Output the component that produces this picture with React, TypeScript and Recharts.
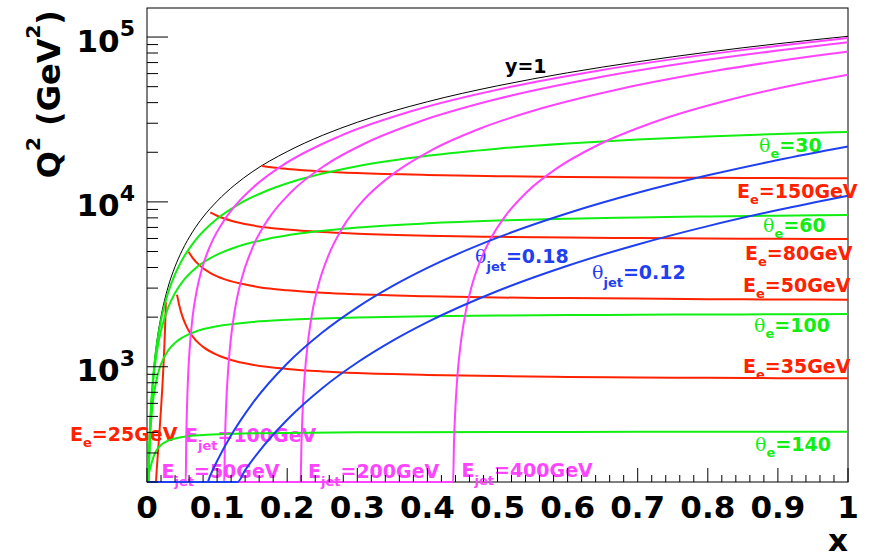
import { LineChart, Line, XAxis, YAxis, Customized } from "recharts";

document.body.style.margin = "0";

// Kinematic curves in the (x, Q^2) plane, points are [x, Q2 in GeV^2]
const yEqualsOne: [number, number][] = [
  [0.002, 202], [0.003, 304], [0.004, 405], [0.006, 607], [0.008, 810], [0.01, 1010],
  [0.015, 1520], [0.02, 2020], [0.03, 3040], [0.04, 4050], [0.05, 5060], [0.065, 6580],
  [0.08, 8100], [0.1, 10100], [0.125, 12650], [0.15, 15200], [0.2, 20200], [0.25, 25300],
  [0.3, 30400], [0.4, 40500], [0.5, 50600], [0.6, 60700], [0.7, 70800], [0.8, 81000],
  [0.9, 91100], [1, 101000],
];

// constant scattered electron energy
const ee150: [number, number][] = [
  [0.164, 16500], [0.18, 16160], [0.2, 15850], [0.25, 15310], [0.3, 14970], [0.4, 14570],
  [0.5, 14330], [0.6, 14180], [0.7, 14080], [0.8, 14000], [0.9, 13940], [1, 13890],
];
const ee80: [number, number][] = [
  [0.0903, 8630], [0.1, 8240], [0.12, 7690], [0.15, 7210], [0.2, 6790], [0.25, 6560],
  [0.3, 6420], [0.4, 6240], [0.5, 6140], [0.6, 6080], [0.7, 6030], [0.8, 6000],
  [0.9, 5970], [1, 5950],
];
const ee50: [number, number][] = [
  [0.0593, 4990], [0.065, 4580], [0.075, 4120], [0.09, 3710], [0.11, 3400], [0.13, 3220],
  [0.16, 3040], [0.2, 2910], [0.25, 2810], [0.3, 2750], [0.4, 2680], [0.5, 2630],
  [0.6, 2610], [0.7, 2590], [0.8, 2570], [0.9, 2560], [1, 2550],
];
const ee35: [number, number][] = [
  [0.0428, 2740], [0.046, 2360], [0.05, 2050], [0.055, 1810], [0.06, 1640], [0.07, 1440],
  [0.08, 1320], [0.1, 1180], [0.12, 1100], [0.15, 1030], [0.2, 970], [0.25, 937],
  [0.3, 916], [0.4, 892], [0.5, 878], [0.6, 868], [0.7, 862], [0.8, 857], [0.9, 853],
  [1, 851],
];
const ee25: [number, number][] = [
  [0, 200], [0.0126, 200], [0.014, 242], [0.016, 317], [0.018, 416], [0.02, 556],
  [0.022, 766], [0.024, 1120], [0.025, 1405], [0.026, 1836], [0.0265, 2147], [0.0269, 2470],
];

// constant electron polar angle (degrees)
const th30: [number, number][] = [
  [0.002, 201], [0.004, 400], [0.007, 695], [0.01, 984], [0.015, 1457], [0.02, 1916],
  [0.03, 2800], [0.04, 3640], [0.05, 4440], [0.07, 5920], [0.1, 7900], [0.13, 9640],
  [0.17, 11640], [0.22, 13760], [0.3, 16470], [0.4, 19050], [0.5, 21040], [0.6, 22600],
  [0.7, 23870], [0.8, 24920], [0.9, 25800], [1, 26550],
];
const th60: [number, number][] = [
  [0.00205, 203], [0.003, 294], [0.005, 479], [0.007, 657], [0.01, 911], [0.015, 1300],
  [0.02, 1655], [0.03, 2275], [0.04, 2800], [0.05, 3250], [0.07, 3980], [0.1, 4785],
  [0.13, 5370], [0.17, 5940], [0.22, 6450], [0.3, 6990], [0.4, 7410], [0.5, 7700],
  [0.6, 7900], [0.7, 8040], [0.8, 8160], [0.9, 8250], [1, 8330],
];
const th100: [number, number][] = [
  [0.0022, 201], [0.003, 266], [0.004, 340], [0.006, 472], [0.008, 587], [0.01, 686],
  [0.015, 886], [0.02, 1038], [0.03, 1252], [0.04, 1396], [0.05, 1499], [0.07, 1638],
  [0.1, 1760], [0.15, 1868], [0.2, 1927], [0.3, 1990], [0.4, 2024], [0.5, 2044],
  [0.6, 2058], [0.7, 2068], [0.8, 2075], [0.9, 2081], [1, 2086],
];
const th140: [number, number][] = [
  [0.003, 228], [0.006, 255], [0.01, 290], [0.015, 318], [0.02, 335], [0.03, 356],
  [0.04, 367], [0.055, 378], [0.08, 386], [0.12, 392], [0.2, 397], [0.3, 400],
  [0.5, 402], [0.7, 403], [1, 404],
];

// constant jet energy
const ej50: [number, number][] = [
  [0, 200], [0.0553, 201], [0.0559, 340], [0.0571, 578], [0.0587, 891], [0.0605, 1224],
  [0.0648, 1970], [0.0707, 2860], [0.0788, 3990], [0.091, 5530], [0.1114, 7890],
  [0.1277, 9690], [0.1522, 12320], [0.1929, 16600], [0.2745, 25000], [0.3793, 35700],
  [0.519, 49900], [0.6413, 62300], [0.8451, 83000], [0.92, 90540], [1, 98650],
];
const ej100: [number, number][] = [
  [0, 200], [0.1101, 201], [0.1111, 337], [0.1128, 571], [0.1156, 936], [0.1194, 1450],
  [0.126, 2295], [0.135, 3415], [0.1511, 5350], [0.1732, 7890], [0.205, 11410],
  [0.2551, 16780], [0.3113, 22690], [0.3881, 30640], [0.4935, 41450], [0.6361, 56000],
  [0.8179, 74500], [0.9, 82830], [1, 92980],
];
const ej200: [number, number][] = [
  [0, 200], [0.2191, 200], [0.2203, 334], [0.2222, 562], [0.2252, 912], [0.2294, 1393],
  [0.2359, 2149], [0.2454, 3229], [0.2586, 4710], [0.2799, 7080], [0.3097, 10340],
  [0.3532, 15000], [0.4049, 20490], [0.4763, 27960], [0.5656, 37200], [0.6764, 48600],
  [0.8111, 62390], [0.9674, 78320], [1, 81640],
];
const ej400: [number, number][] = [
  [0, 200], [0.4366, 200], [0.438, 355], [0.4401, 579], [0.443, 897], [0.4473, 1358],
  [0.4539, 2067], [0.4629, 3045], [0.4748, 4325], [0.49, 5950], [0.5119, 8290],
  [0.5424, 11530], [0.5845, 15970], [0.6434, 22140], [0.728, 30940], [0.8397, 42490],
  [0.9501, 53850], [1, 58960],
];

// constant jet angle (rad)
const tj18: [number, number][] = [
  [0, 200], [0.0862, 200], [0.09, 218], [0.1, 268], [0.12, 384], [0.15, 596], [0.2, 1046],
  [0.25, 1613], [0.3, 2294], [0.35, 3083], [0.4, 3978], [0.5, 6066], [0.6, 8531],
  [0.7, 11350], [0.8, 14490], [0.9, 17940], [1, 21670],
];
const tj12: [number, number][] = [
  [0, 200], [0.129, 200], [0.14, 236], [0.16, 307], [0.2, 477], [0.25, 741], [0.3, 1061],
  [0.35, 1436], [0.4, 1865], [0.5, 2881], [0.6, 4101], [0.7, 5520], [0.8, 7131],
  [0.9, 8926], [1, 10900],
];

const Q2_MIN = 200;
const Q2_MAX = 150000;

const RED = "#ff2200";
const GREEN = "#11ee11";
const MAGENTA = "#ff44ff";
const BLUE = "#1f40f0";

const W = 870;
const H = 560;
const PLOT_LEFT = 147;
const PLOT_TOP = 8;
const PLOT_RIGHT = 848;
const PLOT_BOTTOM = 482;

const FONT = "'DejaVu Sans', sans-serif";
const GREEK = "'DejaVu Serif', serif";

const toPts = (pairs: [number, number][]) => pairs.map(([x, q]) => ({ x, q }));

const series = [
  { name: "y=1", pts: yEqualsOne, color: "#000", width: 1 },
  { name: "Ee=25", pts: ee25, color: RED, width: 2 },
  { name: "Ee=35", pts: ee35, color: RED, width: 2 },
  { name: "Ee=50", pts: ee50, color: RED, width: 2 },
  { name: "Ee=80", pts: ee80, color: RED, width: 2 },
  { name: "Ee=150", pts: ee150, color: RED, width: 2 },
  { name: "th=30", pts: th30, color: GREEN, width: 2 },
  { name: "th=60", pts: th60, color: GREEN, width: 2 },
  { name: "th=100", pts: th100, color: GREEN, width: 2 },
  { name: "th=140", pts: th140, color: GREEN, width: 2 },
  { name: "Ejet=50", pts: ej50, color: MAGENTA, width: 2 },
  { name: "Ejet=100", pts: ej100, color: MAGENTA, width: 2 },
  { name: "Ejet=200", pts: ej200, color: MAGENTA, width: 2 },
  { name: "Ejet=400", pts: ej400, color: MAGENTA, width: 2 },
  { name: "thjet=0.18", pts: tj18, color: BLUE, width: 2 },
  { name: "thjet=0.12", pts: tj12, color: BLUE, width: 2 },
];

// ROOT-style axis divisions: 10 primary, 5 secondary on x; log decades on y
const xTicks = Array.from({ length: 51 }, (_, i) => +(i * 0.02).toFixed(2));
const yTicks: number[] = [];
[100, 1000, 10000].forEach((d) => {
  for (let m = 1; m <= 9; m++) {
    const v = d * m;
    if (v >= Q2_MIN && v <= Q2_MAX) yTicks.push(v);
  }
});
yTicks.push(100000);

const XTick = (props: any) => {
  const { x, payload } = props;
  const v = payload.value as number;
  const major = Math.abs(v * 10 - Math.round(v * 10)) < 1e-6;
  const label = v === 0 ? "0" : v === 1 ? "1" : v.toFixed(1);
  return (
    <g>
      <line x1={x} x2={x} y1={PLOT_BOTTOM} y2={PLOT_BOTTOM - (major ? 14 : 7)} stroke="#000" />
      {major && (
        <text x={x} y={518} textAnchor="middle" fontFamily={FONT} fontWeight="bold" fontSize={31} fill="#000">
          {label}
        </text>
      )}
    </g>
  );
};

const YTick = (props: any) => {
  const { y, payload } = props;
  const v = payload.value as number;
  const exp = Math.round(Math.log10(v));
  const major = Math.abs(Math.pow(10, exp) - v) < 1e-6;
  return (
    <g>
      <line x1={PLOT_LEFT} x2={PLOT_LEFT + (major ? 21 : 11)} y1={y} y2={y} stroke="#000" />
      {major && (
        <text x={135} y={y + 14.5} textAnchor="end" fontFamily={FONT} fontWeight="bold" fontSize={31} fill="#000">
          10
          <tspan dy={-15.5} fontSize={22}>{exp}</tspan>
        </text>
      )}
    </g>
  );
};

type LabelSpec = {
  x: number;
  y: number;
  color: string;
  greek?: boolean;
  head?: string;
  sub?: string;
  tail: string;
};

const labels: LabelSpec[] = [
  { x: 505, y: 72.5, color: "#000", tail: "y=1" },
  { x: 759, y: 151.5, color: GREEN, greek: true, sub: "e", tail: "=30" },
  { x: 737, y: 198, color: RED, head: "E", sub: "e", tail: "=150GeV" },
  { x: 763, y: 231.5, color: GREEN, greek: true, sub: "e", tail: "=60" },
  { x: 745, y: 260, color: RED, head: "E", sub: "e", tail: "=80GeV" },
  { x: 475, y: 263, color: BLUE, greek: true, sub: "jet", tail: "=0.18" },
  { x: 592, y: 279, color: BLUE, greek: true, sub: "jet", tail: "=0.12" },
  { x: 743, y: 291.5, color: RED, head: "E", sub: "e", tail: "=50GeV" },
  { x: 754, y: 331.5, color: GREEN, greek: true, sub: "e", tail: "=100" },
  { x: 743, y: 372.5, color: RED, head: "E", sub: "e", tail: "=35GeV" },
  { x: 755, y: 451, color: GREEN, greek: true, sub: "e", tail: "=140" },
  { x: 70, y: 441, color: RED, head: "E", sub: "e", tail: "=25GeV" },
  { x: 185, y: 441.5, color: MAGENTA, head: "E", sub: "jet", tail: "=100GeV" },
  { x: 161.5, y: 478, color: MAGENTA, head: "E", sub: "jet", tail: "=50GeV" },
  { x: 308, y: 478, color: MAGENTA, head: "E", sub: "jet", tail: "=200GeV" },
  { x: 461.5, y: 477, color: MAGENTA, head: "E", sub: "jet", tail: "=400GeV" },
];

const CurveLabel = ({ x, y, color, greek, head, sub, tail }: LabelSpec) => {
  const drop = sub === "jet" ? 8 : 6;
  return (
    <text x={x} y={y} fill={color} fontFamily={FONT} fontWeight="bold" fontSize={19}>
      {greek ? (
        <tspan fontFamily={GREEK} fontWeight="normal">θ</tspan>
      ) : (
        head
      )}
      {sub && (
        <tspan dy={drop} fontSize={13}>{sub}</tspan>
      )}
      <tspan dy={sub ? -drop : 0}>{tail}</tspan>
    </text>
  );
};

const Overlay = () => (
  <g>
    {labels.map((l, i) => (
      <CurveLabel key={i} {...l} />
    ))}
    <text x={PLOT_RIGHT} y={551} textAnchor="end" fontFamily={FONT} fontWeight="bold" fontSize={31} fill="#000">
      x
    </text>
    <text
      transform={`translate(60, ${PLOT_TOP + 2}) rotate(-90)`}
      textAnchor="end"
      fontFamily={FONT}
      fontWeight="bold"
      fontSize={32}
      fill="#000"
    >
      Q<tspan dy={-20} fontSize={20}>2</tspan>
      <tspan dy={20}> (GeV</tspan>
      <tspan dy={-20} fontSize={20}>2</tspan>
      <tspan dy={20}>)</tspan>
    </text>
  </g>
);

export default function App() {
  return (
    <div style={{ position: "relative", width: W, height: H, background: "#fff" }}>
      {/* frame box lies beneath the chart svg so curves clipped to the lower edge stay visible */}
      <svg width={W} height={H} style={{ position: "absolute", left: 0, top: 0 }}>
        <rect
          x={PLOT_LEFT}
          y={PLOT_TOP}
          width={PLOT_RIGHT - PLOT_LEFT}
          height={PLOT_BOTTOM - PLOT_TOP}
          fill="none"
          stroke="#000"
        />
      </svg>
      <div style={{ position: "absolute", left: 0, top: 0 }}>
        <LineChart width={W} height={H} margin={{ top: PLOT_TOP, right: W - PLOT_RIGHT, left: 0, bottom: 0 }}>
          <XAxis
            type="number"
            dataKey="x"
            domain={[0, 1]}
            ticks={xTicks}
            interval={0}
            height={H - PLOT_BOTTOM}
            axisLine={false}
            tickLine={false}
            tick={(p: any) => <XTick {...p} />}
          />
          <YAxis
            type="number"
            scale="log"
            domain={[Q2_MIN, Q2_MAX]}
            ticks={yTicks}
            interval={0}
            width={PLOT_LEFT}
            axisLine={false}
            tickLine={false}
            tick={(p: any) => <YTick {...p} />}
          />
          {series.map((s) => (
            <Line
              key={s.name}
              data={toPts(s.pts)}
              dataKey="q"
              type="monotone"
              stroke={s.color}
              strokeWidth={s.width}
              dot={false}
              activeDot={false}
              isAnimationActive={false}
            />
          ))}
          <Customized component={Overlay} />
        </LineChart>
      </div>
    </div>
  );
}
